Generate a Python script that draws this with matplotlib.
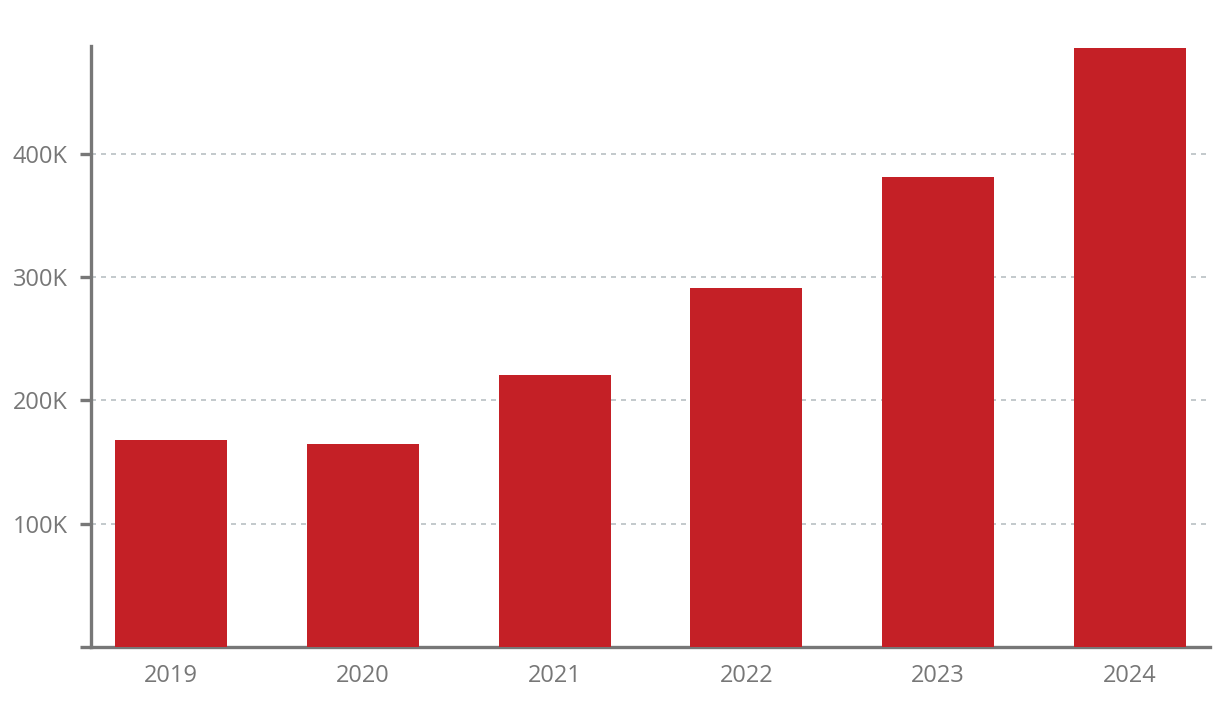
import matplotlib.pyplot as plt
from matplotlib.ticker import FuncFormatter

years = ["2019", "2020", "2021", "2022", "2023", "2024"]
values = [168000, 164700, 220700, 291300, 381300, 486000]
yticks = [0, 100000, 200000, 300000, 400000]

barColor = "#C42026"
axisColor = "#777777"
gridColor = "#B9C0C4"

plt.rcParams['font.family'] = ['Open Sans', 'DejaVu Sans']

fig = plt.figure(figsize=(12.2, 7.02), dpi=100)
ax = fig.add_axes([91/1220, (702-647)/702, (1210-91)/1220, (647-46)/702])

x = range(len(years))
ax.bar(x, values, width=0.583, color=barColor, zorder=3)

ax.set_xlim(-0.417, 5.417)
ax.set_ylim(0, 487600)
ax.set_xticks(list(x))
ax.set_xticklabels(years)
ax.set_yticks(yticks)
ax.yaxis.set_major_formatter(FuncFormatter(
    lambda v, p: "" if v == 0 else "{:d}K".format(int(v/1000))))

for s in ["top", "right"]:
  ax.spines[s].set_visible(False)
for s in ["left", "bottom"]:
  ax.spines[s].set_color(axisColor)
  ax.spines[s].set_linewidth(2.4)

ax.tick_params(axis="y", length=8, width=2.4, color=axisColor,
               labelcolor=axisColor, labelsize=17, pad=9)
ax.tick_params(axis="x", length=0, labelcolor=axisColor, labelsize=17, pad=12)

ax.yaxis.grid(True, linestyle=(0, (3, 3)), color=gridColor, linewidth=1.2, zorder=0)
ax.set_axisbelow(True)

fig.savefig("out.png", dpi=100)
